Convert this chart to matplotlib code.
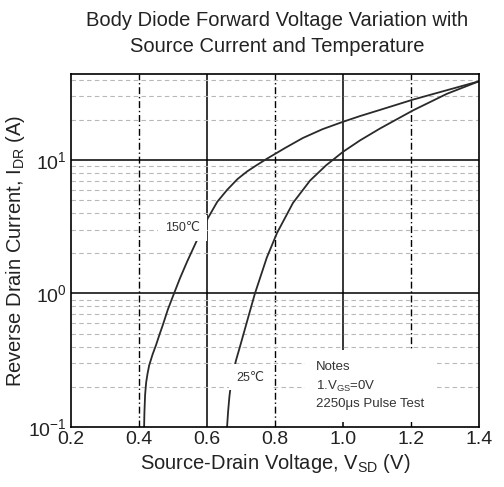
import numpy as np
import matplotlib
matplotlib.use('Agg')
import matplotlib.pyplot as plt
from matplotlib.ticker import FixedLocator, LogLocator, NullFormatter

plt.rcParams['font.family'] = ['Liberation Sans', 'DejaVu Sans']
plt.rcParams['mathtext.fontset'] = 'custom'
plt.rcParams['mathtext.rm'] = 'Liberation Sans'
plt.rcParams['mathtext.it'] = 'Liberation Sans'

# curve readings: source-drain voltage (V) vs reverse drain current (A)
v_150 = [0.415, 0.416, 0.418, 0.421, 0.425, 0.43, 0.44, 0.45, 0.46, 0.47, 0.485, 0.503,
         0.52, 0.541, 0.571, 0.603, 0.63, 0.659, 0.69, 0.718, 0.745, 0.776, 0.83, 0.882,
         0.94, 1.0, 1.05, 1.109, 1.206, 1.306, 1.40]
i_150 = [0.1, 0.13, 0.175, 0.215, 0.25, 0.29, 0.35, 0.41, 0.49, 0.58, 0.76, 1.0,
         1.29, 1.72, 2.52, 3.68, 4.85, 5.96, 7.2, 8.2, 9.1, 10.2, 12.3, 14.6,
         17.0, 19.3, 21.3, 23.7, 28.3, 33.3, 38.8]
v_25 = [0.659, 0.662, 0.666, 0.671, 0.677, 0.686, 0.697, 0.718, 0.741, 0.776, 0.806, 0.853,
        0.903, 0.95, 1.0, 1.05, 1.109, 1.206, 1.306, 1.40]
i_25 = [0.1, 0.13, 0.17, 0.215, 0.26, 0.32, 0.40, 0.62, 1.0, 1.86, 2.84, 4.77,
        7.0, 9.1, 11.5, 14.0, 17.2, 23.5, 31.3, 38.8]

x_ticks = [0.2, 0.4, 0.6, 0.8, 1.0, 1.2, 1.4]
x_labels = ['0.2', '0.4', '0.6', '0.8', '1.0', '1.2', '1.4']
y_ticks = [0.1, 1, 10]
y_labels = ['$10^{-1}$', '$10^{0}$', '$10^{1}$']
v_solid = [0.6, 1.0]
v_dashdot = [0.4, 0.8, 1.2]
h_solid = [1, 10]

fig = plt.figure(figsize=(5.04, 4.87), dpi=100)
ax = fig.add_axes([71 / 504, 60 / 487, 408 / 504, 353 / 487])

ax.set_yscale('log')
ax.set_xlim(0.2, 1.4)
ax.set_ylim(0.1, 44)

# grid
ax.yaxis.set_minor_locator(LogLocator(base=10, subs=np.arange(2, 10)))
ax.yaxis.set_minor_formatter(NullFormatter())
ax.grid(which='minor', axis='y', color='#b8b8b8', linestyle=(0, (4, 3)), linewidth=0.8)
for xv in v_solid:
    ax.axvline(xv, color='black', linewidth=1.1, zorder=1)
for xv in v_dashdot:
    ax.axvline(xv, color='black', linewidth=1.0, linestyle=(0, (5, 2, 1, 2)), zorder=1)
for yv in h_solid:
    ax.axhline(yv, color='black', linewidth=1.1, zorder=1)

ax.plot(v_150, i_150, color='#2a2a2a', linewidth=1.3, zorder=2)
ax.plot(v_25, i_25, color='#2a2a2a', linewidth=1.3, zorder=2)

box = dict(facecolor='white', edgecolor='none', pad=5)
ax.text(0.527, 3.1, '150\u2103', fontsize=9, ha='center', va='center', zorder=3, bbox=box,
        color='#333333')
ax.text(0.727, 0.235, '25\u2103', fontsize=9, ha='center', va='center', zorder=3, bbox=box,
        color='#333333')
ax.text(0.92, 0.31, 'Notes\n1.V$_{\\mathrm{GS}}$=0V\n2250\u03bcs Pulse Test', fontsize=9.5,
        ha='left', va='top', linespacing=1.5, zorder=3, color='#333333',
        bbox=dict(facecolor='white', edgecolor='none', pad=8))

ax.xaxis.set_major_locator(FixedLocator(x_ticks))
ax.set_xticklabels(x_labels)
ax.yaxis.set_major_locator(FixedLocator(y_ticks))
ax.set_yticklabels(y_labels)
ax.tick_params(which='both', length=0, labelsize=14, pad=3, colors='#222222')
for s in ax.spines.values():
    s.set_linewidth(1.2)

ax.set_xlabel('Source-Drain Voltage, V$_{\\mathrm{SD}}$ (V)', fontsize=14.5, labelpad=3,
              color='#222222')
ax.set_ylabel('Reverse Drain Current, I$_{\\mathrm{DR}}$ (A)', fontsize=14.5, labelpad=1,
              color='#222222')

fig.text(277 / 504, 1 - 21 / 487, 'Body Diode Forward Voltage Variation with', fontsize=14.5,
         ha='center', va='center', color='#222222')
fig.text(277 / 504, 1 - 46 / 487, 'Source Current and Temperature', fontsize=14.5,
         ha='center', va='center', color='#222222')

fig.savefig('out.png', dpi=100)
